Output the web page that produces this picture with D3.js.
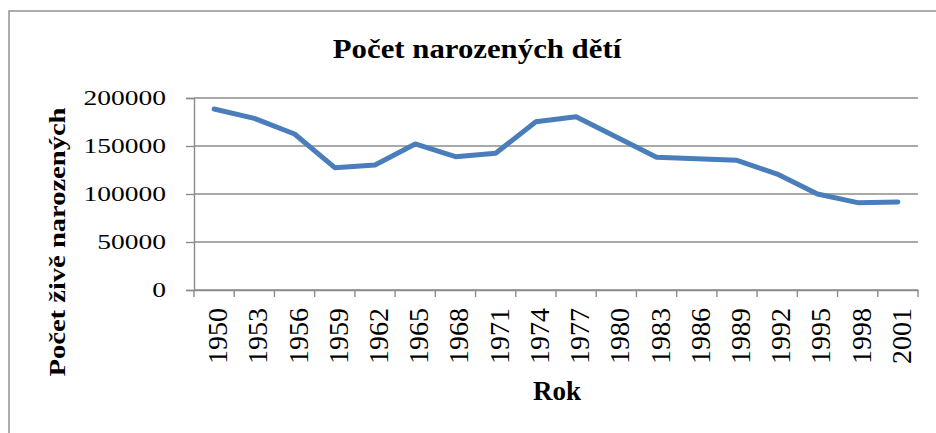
<!DOCTYPE html>
<html>
<head>
<meta charset="utf-8">
<script src="https://cdn.jsdelivr.net/npm/d3@7"></script>
<style>
  body { margin: 0; background: #fff; }
  text { font-family: "Liberation Serif", "DejaVu Serif", serif; fill: #000; }
</style>
</head>
<body>
<div id="app"></div>
<script>
// data
const years = ['1950', '1953', '1956', '1959', '1962', '1965', '1968', '1971', '1974',
               '1977', '1980', '1983', '1986', '1989', '1992', '1995', '1998', '2001']
const births = [188500, 178800, 162500, 127400, 130200, 152100, 138900, 142400, 175300,
                180500, 159400, 138200, 136800, 135100, 120800, 100000, 91000, 91700]
const yTicks = [0, 50000, 100000, 150000, 200000]

const width = 936, height = 433
const plot = { left: 194, right: 918, top: 98, bottom: 290 }

const svg = d3.select('#app')
              .append('svg')
                .attr('width', width)
                .attr('height', height)

// ramecek grafu
svg.append('rect')
    .attr('x', 9).attr('y', 11)
    .attr('width', 960).attr('height', 460)
    .attr('fill', 'none')
    .attr('stroke', '#8a8a8a')
    .attr('stroke-width', 1.4)

// skaly
const xScale = d3.scaleBand()
                  .domain(years)
                  .range([plot.left, plot.right])
const yScale = d3.scaleLinear()
                  .domain([0, 200000])
                  .range([plot.bottom, plot.top])

// mrizka
svg.append('g')
  .selectAll('line')
  .data(yTicks)
  .join('line')
    .attr('x1', plot.left).attr('x2', plot.right)
    .attr('y1', d => yScale(d)).attr('y2', d => yScale(d))
    .attr('stroke', '#8c8c8c')
    .attr('stroke-width', 1.4)

// osa y
const yAxis = svg.append('g')
                  .attr('transform', `translate(${plot.left}, 0)`)
                  .call(d3.axisLeft(yScale).tickValues(yTicks).tickSize(8).tickPadding(20).tickFormat(d3.format('d')))
yAxis.select('.domain').attr('stroke', '#8c8c8c').attr('stroke-width', 1.4)
yAxis.selectAll('.tick line').attr('stroke', '#8c8c8c').attr('stroke-width', 1.4)
yAxis.selectAll('.tick text')
  .attr('font-size', 22)
  .attr('dy', null)
  .attr('x', null)
  .attr('transform', 'translate(-28, 6.5) scale(1.25, 1)')
  .attr('text-anchor', 'end')

// osa x
const xAxis = svg.append('g')
                  .attr('transform', `translate(0, ${plot.bottom})`)
                  .call(d3.axisBottom(xScale).tickSize(0).tickPadding(0))
xAxis.select('.domain').attr('stroke', '#8c8c8c').attr('stroke-width', 1.4)
xAxis.selectAll('.tick text')
  .attr('font-size', 28)
  .attr('y', null).attr('dy', null)
  .attr('text-anchor', 'end')
  .attr('transform', 'translate(13, 18) rotate(-90)')
xAxis.selectAll('.edge')
  .data(years.concat(['end']))
  .join('line')
    .attr('class', 'edge')
    .attr('x1', d => d === 'end' ? plot.right : xScale(d))
    .attr('x2', d => d === 'end' ? plot.right : xScale(d))
    .attr('y1', 0).attr('y2', 7)
    .attr('stroke', '#8c8c8c')
    .attr('stroke-width', 1.4)

// cara
const line = d3.line()
                .x((d, i) => xScale(years[i]) + xScale.bandwidth() / 2)
                .y(d => yScale(d))
svg.append('path')
    .datum(births)
    .attr('d', line)
    .attr('fill', 'none')
    .attr('stroke', '#4a7ebb')
    .attr('stroke-width', 5)
    .attr('stroke-linejoin', 'round')
    .attr('stroke-linecap', 'round')

// popisky
svg.append('text')
    .attr('transform', 'translate(477, 58) scale(1.1, 1)')
    .attr('text-anchor', 'middle')
    .attr('font-size', 28)
    .attr('font-weight', 'bold')
    .text('Počet narozených dětí')

svg.append('text')
    .attr('transform', 'translate(65, 242) rotate(-90) scale(1.19, 1)')
    .attr('text-anchor', 'middle')
    .attr('font-size', 24)
    .attr('font-weight', 'bold')
    .text('Počet živě narozených')

svg.append('text')
    .attr('transform', 'translate(557, 400)')
    .attr('text-anchor', 'middle')
    .attr('font-size', 27)
    .attr('font-weight', 'bold')
    .text('Rok')
</script>
</body>
</html>
